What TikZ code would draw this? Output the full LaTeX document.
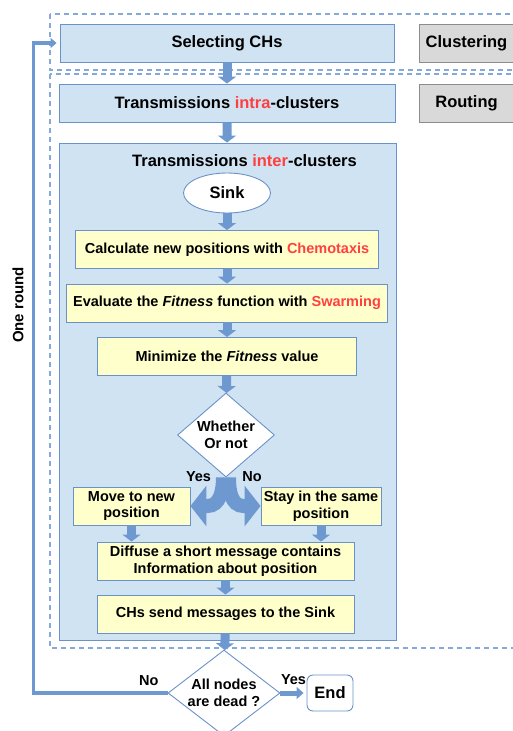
\documentclass[tikz,border=0pt]{standalone}
\usepackage{fontspec}
\setmainfont{Liberation Sans}
\usetikzlibrary{shapes.geometric,arrows.meta}
\definecolor{boxblue}{HTML}{D0E3F3}
\definecolor{lineblue}{HTML}{6A92C8}
\definecolor{arrowblue}{HTML}{6E98D0}
\definecolor{dashblue}{HTML}{85AADA}
\definecolor{notered}{HTML}{FF4040}
\definecolor{notefill}{HTML}{FFFFCC}
\definecolor{tabgray}{HTML}{D9D9D9}
\definecolor{tabline}{HTML}{8C8C8C}
\newcommand{\hl}[1]{\textcolor{notered}{#1}}

\begin{document}
\begin{tikzpicture}[x=1pt,y=1pt,
    font=\bfseries\fontsize{14.5}{16.5}\selectfont,
    every node/.style={inner sep=0pt,align=center},
    big/.style={font=\bfseries\fontsize{16.5}{19}\selectfont},
    stage/.style={draw=lineblue,fill=boxblue,line width=.9pt,minimum height=38pt,big},
    tabbox/.style={draw=tabline,fill=tabgray,line width=.9pt,minimum width=95pt,minimum height=38pt,big},
    task/.style={draw=lineblue,fill=notefill,line width=.9pt,minimum height=38pt},
    decision/.style={diamond,draw=lineblue,fill=white,line width=.9pt},
    zone/.style={draw=dashblue,line width=1.8pt,dash pattern=on 5pt off 4pt},
    flow/.style={draw=arrowblue,line width=9pt,-{Triangle[width=18pt,length=7pt]}},
    fork/.style={draw=arrowblue,line width=14pt,-{Triangle[width=40pt,length=16pt]}},
    feedback/.style={draw=arrowblue,line width=3.5pt,-{Triangle[width=10pt,length=6pt]},shorten >=3pt},
    exitarrow/.style={draw=arrowblue,line width=5pt,-{Triangle[width=12pt,length=7pt]},shorten >=3pt}]
    \useasboundingbox (0,0) rectangle (512,-731);

    % dashed zones
    \draw[zone] (50,-14) rectangle (530,-70);
    \draw[zone] (50,-74) rectangle (530,-648);

    % phases
    \node[stage,minimum width=334pt] (sel) at (227,-43) {Selecting CHs};
    \node[tabbox] (clus) at (466.5,-43) {Clustering};
    \node[stage,minimum width=336pt] (intra) at (227,-103) {Transmissions \hl{intra}-clusters};
    \node[tabbox] (rout) at (466.5,-103) {Routing};
    \node[stage,minimum width=337pt,minimum height=497pt] (inter) at (227.5,-391.5) {};
    \node[big] (intert) at (244.5,-161) {Transmissions \hl{inter}-clusters};

    % inside inter-clusters
    \node[ellipse,draw=lineblue,fill=white,line width=.9pt,minimum width=87pt,minimum height=40pt,big] (sink) at (227,-193) {Sink};
    \node[task,minimum width=303pt] (calc) at (227,-249.5) {Calculate new positions with \hl{Chemotaxis}};
    \node[task,minimum width=321pt] (eval) at (227,-303) {Evaluate the \textit{Fitness} function with \hl{Swarming}};
    \node[task,minimum width=259pt] (mini) at (227,-356.5) {Minimize the \textit{Fitness} value};
    \node[decision,aspect=1.15,minimum width=97pt,minimum height=84pt] (wh) at (226,-435) {Whether\\Or not};
    \node[task,minimum width=117pt] (move) at (131.5,-506) {Move to new\\position};
    \node[task,minimum width=120pt] (stay) at (321,-506) {Stay in the same\\position};
    \node[task,minimum width=257pt] (diff) at (225.5,-561) {Diffuse a short message contains\\Information about position};
    \node[task,minimum width=257pt] (chs) at (225.5,-614) {CHs send messages to the Sink};

    % end of round
    \node[decision,aspect=1.3,minimum width=112pt,minimum height=86pt] (dead) at (224,-693) {All nodes\\are dead ?};
    \node[draw=lineblue,fill=white,line width=.9pt,rounded corners=6pt,minimum width=46pt,minimum height=36pt,big] (end) at (330,-693) {End};

    \node[rotate=90,font=\bfseries\fontsize{15}{18}\selectfont] (round) at (18,-305) {One round};
    \node (yes1) at (198.5,-477) {Yes};
    \node (no1) at (252,-477) {No};

    % arrows
    \draw[flow] (sel) -- (intra);
    \draw[flow] (intra) -- (inter);
    \draw[flow] (sink) -- (calc);
    \draw[flow] (calc) -- (eval);
    \draw[flow] (eval) -- (mini);
    \draw[flow] (mini) -- (wh);
    \draw[fork] ([xshift=-3pt]wh.south) to[out=-90,in=0] ([xshift=17pt]move.east) -- (move.east);
    \draw[fork] ([xshift=3pt]wh.south) to[out=-90,in=180] ([xshift=-17pt]stay.west) -- (stay.west);
    \draw[flow] (move.south) -- (move.south |- diff.north);
    \draw[flow] (stay.south) -- (stay.south |- diff.north);
    \draw[flow] (diff) -- (chs);
    \draw[flow] (chs) -- (dead);
    \draw[exitarrow] (dead) -- node[above=6pt] {Yes} (end);
    \draw[feedback] (dead.west) -| node[pos=0.07,above=6pt] {No} ([xshift=-26pt]sel.west) -- (sel.west);
\end{tikzpicture}
\end{document}
